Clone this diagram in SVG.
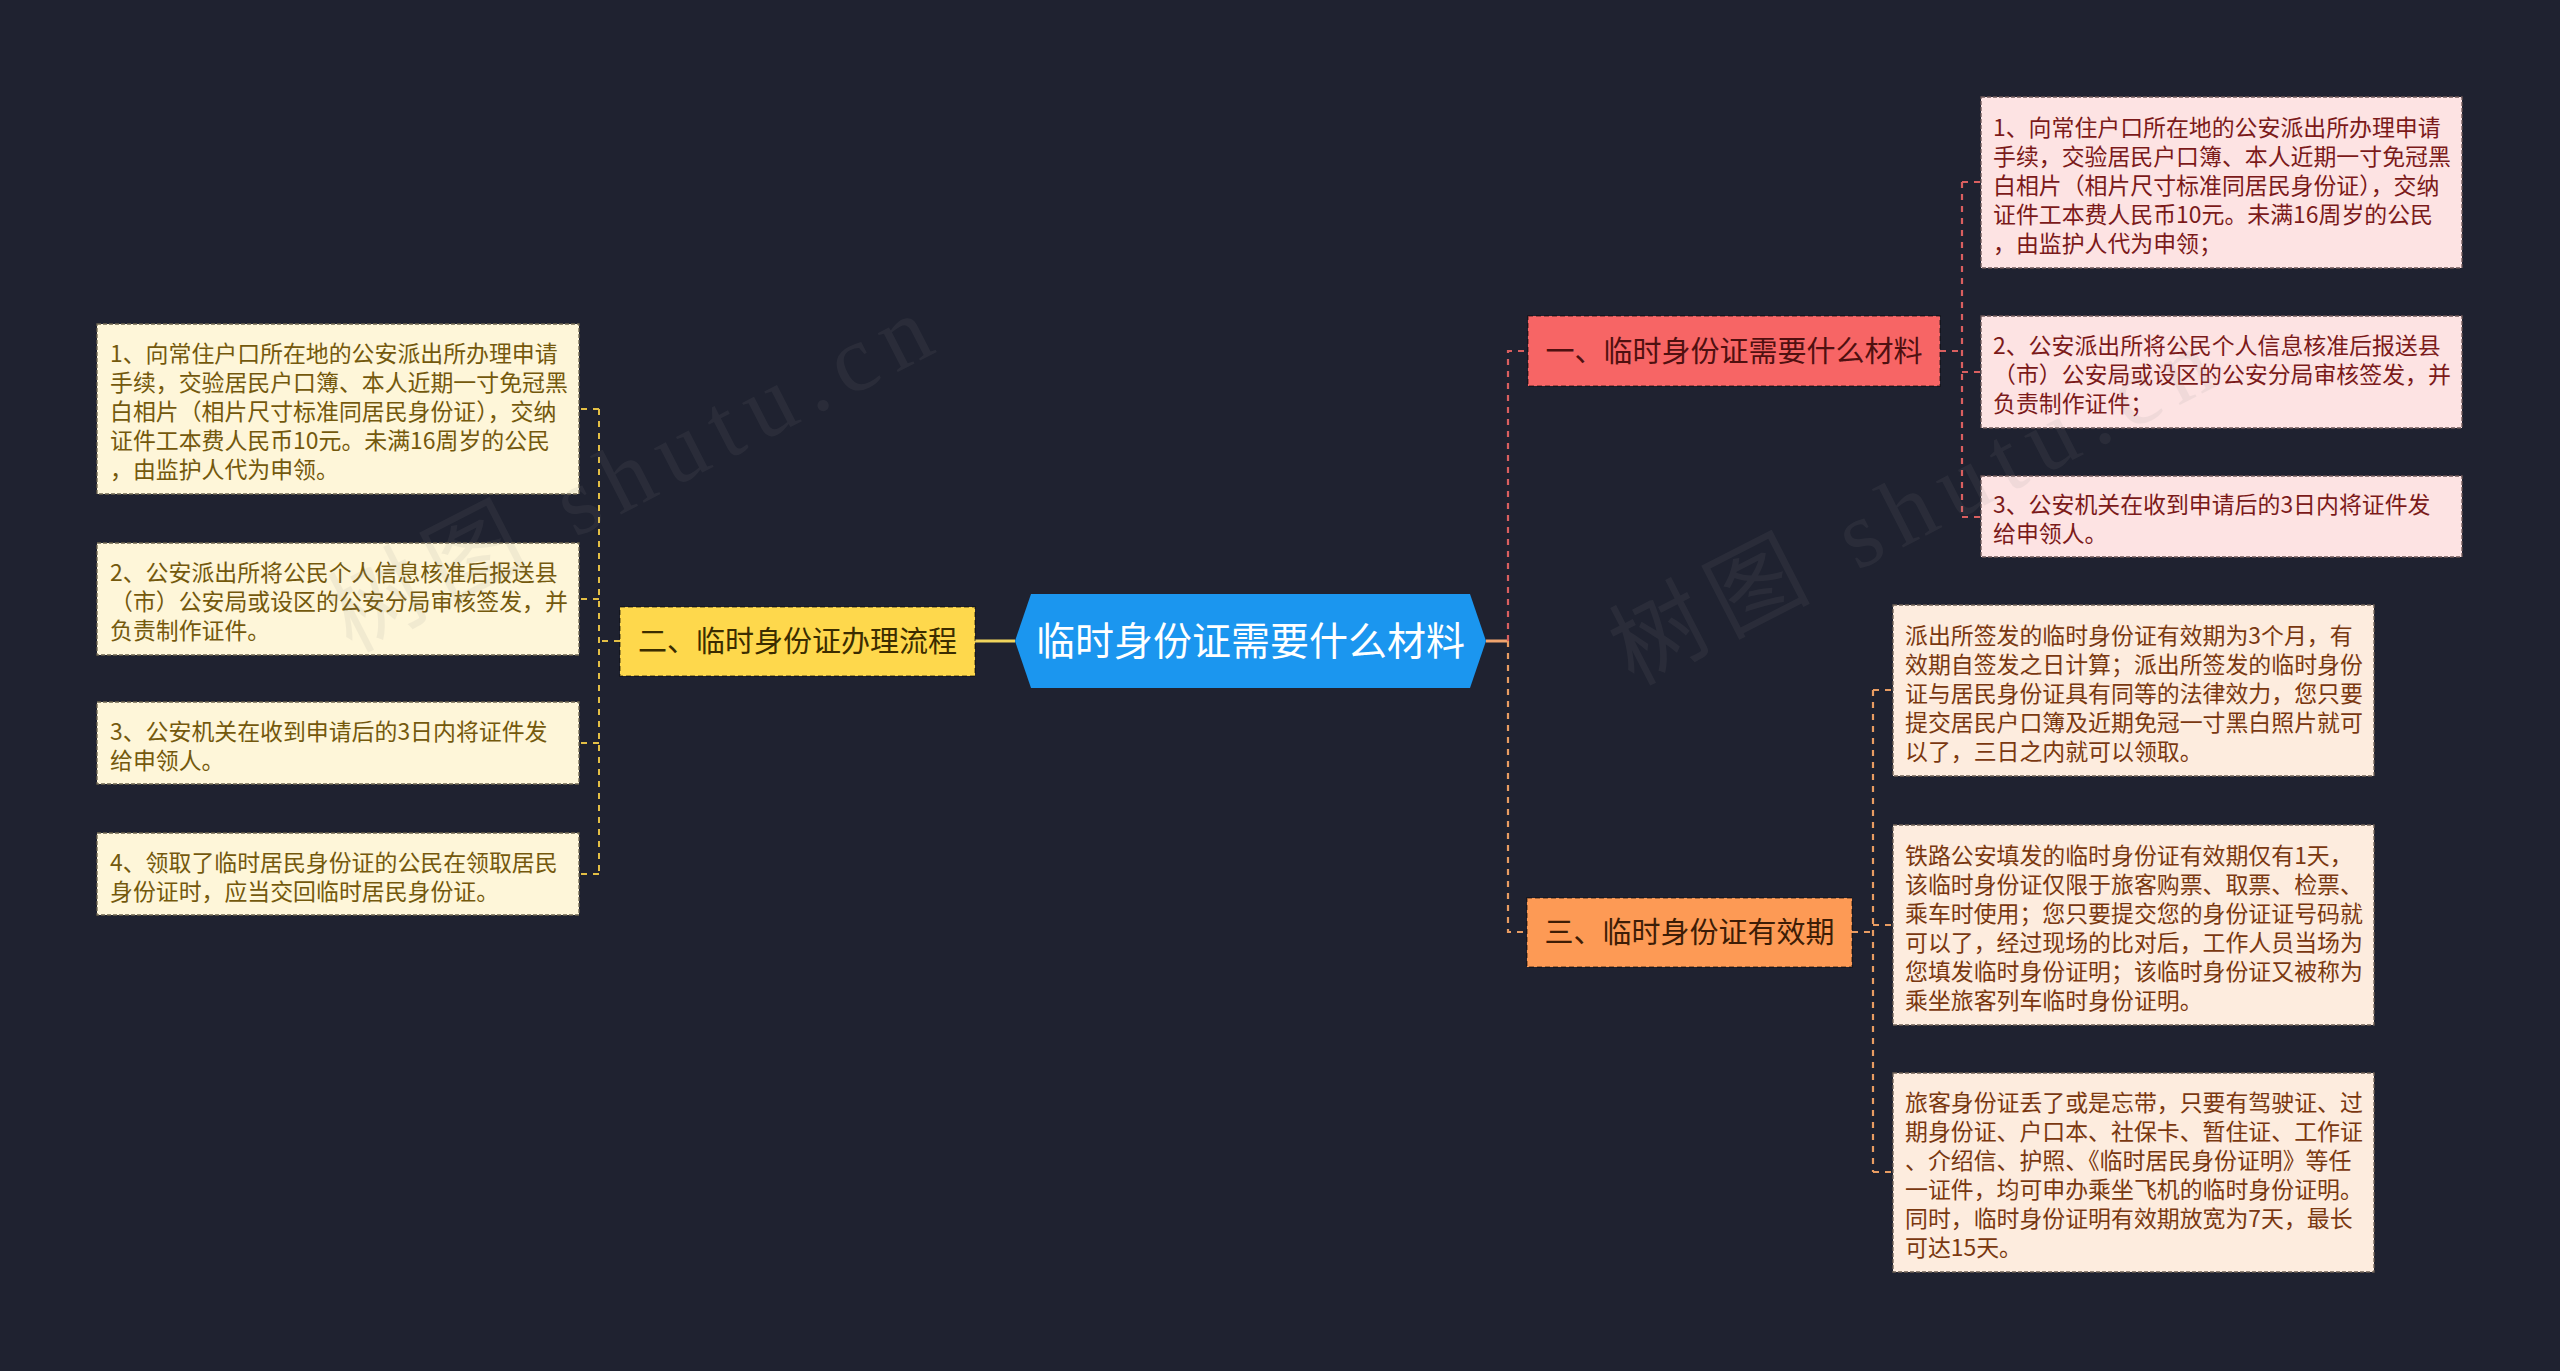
<svg xmlns="http://www.w3.org/2000/svg" width="2560" height="1371" viewBox="0 0 2560 1371">
<defs>
<style>
.bg{fill:#1f2230}
.t{font-family:"Noto Sans CJK SC","Microsoft YaHei","Liberation Sans",sans-serif}
.leaf{font-size:22.9px}
.node{font-size:29px;text-anchor:middle}
.lbox{fill:#fef6d9;stroke:#6e6650;stroke-width:1.3;stroke-dasharray:4 2}
.pbox{fill:#fde3e3;stroke:#6e5858;stroke-width:1.3;stroke-dasharray:4 2}
.obox{fill:#fdecde;stroke:#6e6055;stroke-width:1.3;stroke-dasharray:4 2}
.ltx{fill:#74590d}
.ptx{fill:#7b1a1a}
.otx{fill:#7a3810}
.nb{stroke:rgba(0,0,0,0.45);stroke-width:1.5;stroke-dasharray:5 3}
.cy{fill:none;stroke:#e3bf45;stroke-width:2;stroke-dasharray:6 6}
.cr{fill:none;stroke:#d95f5f;stroke-width:2.2;stroke-dasharray:6 6}
.co{fill:none;stroke:#e89c62;stroke-width:2.2;stroke-dasharray:6 6}
.wm{font-family:"Liberation Serif","Noto Sans CJK SC",serif;font-size:95px;fill:#8a8a8a;opacity:0.1}
</style>
</defs>
<rect class="bg" x="0" y="0" width="2560" height="1371"/>

<g id="connectors">
  <line x1="975" y1="641" x2="1015" y2="641" stroke="#f0d45c" stroke-width="3"/>
  <line x1="1486" y1="641" x2="1508" y2="641" stroke="#f0a46e" stroke-width="3"/>
  <path class="cy" d="M620,641 H599"/>
  <path class="cy" d="M599,409 V874"/>
  <path class="cy" d="M599,409 H579"/>
  <path class="cy" d="M599,599 H579"/>
  <path class="cy" d="M599,743 H579"/>
  <path class="cy" d="M599,874 H579"/>
  <path class="cr" d="M1508,641 V351 H1528"/>
  <path class="co" d="M1508,641 V932 H1527"/>
  <path class="cr" d="M1940,351 H1962"/>
  <path class="cr" d="M1962,182 V517"/>
  <path class="cr" d="M1962,182 H1981"/>
  <path class="cr" d="M1962,372 H1981"/>
  <path class="cr" d="M1962,517 H1981"/>
  <path class="co" d="M1852,932 H1873"/>
  <path class="co" d="M1873,690 V1172"/>
  <path class="co" d="M1873,690 H1893"/>
  <path class="co" d="M1873,925 H1893"/>
  <path class="co" d="M1873,1172 H1893"/>
</g>

<g id="root">
  <polygon points="1015,641 1031,594 1470,594 1486,641 1470,688 1031,688" fill="#1b96ef"/>
  <text class="t" x="1250.5" y="655" font-size="39" fill="#ffffff" text-anchor="middle">临时身份证需要什么材料</text>
</g>

<g id="n2">
  <rect class="nb" x="620" y="607" width="355" height="69" fill="#fed84c"/>
  <text class="t node" x="797.5" y="651.5" fill="#3b2c00">二、临时身份证办理流程</text>
</g>
<g id="n1">
  <rect class="nb" x="1528" y="316" width="412" height="70" fill="#f76565"/>
  <text class="t node" x="1734" y="361.5" fill="#4f1010">一、临时身份证需要什么材料</text>
</g>
<g id="n3">
  <rect class="nb" x="1527" y="898" width="325" height="69" fill="#fd9a55"/>
  <text class="t node" x="1689.5" y="942.5" fill="#3d1d06">三、临时身份证有效期</text>
</g>

<g id="l1">
  <rect class="lbox" x="97" y="324" width="482" height="170"/>
  <text class="t leaf ltx"><tspan x="110" y="362">1、向常住户口所在地的公安派出所办理申请</tspan><tspan x="110" y="391">手续，交验居民户口簿、本人近期一寸免冠黑</tspan><tspan x="110" y="420">白相片（相片尺寸标准同居民身份证），交纳</tspan><tspan x="110" y="449">证件工本费人民币10元。未满16周岁的公民</tspan><tspan x="110" y="478">，由监护人代为申领。</tspan></text>
</g>
<g id="l2">
  <rect class="lbox" x="97" y="543" width="482" height="112"/>
  <text class="t leaf ltx"><tspan x="110" y="581">2、公安派出所将公民个人信息核准后报送县</tspan><tspan x="110" y="610">（市）公安局或设区的公安分局审核签发，并</tspan><tspan x="110" y="639">负责制作证件。</tspan></text>
</g>
<g id="l3">
  <rect class="lbox" x="97" y="702" width="482" height="82"/>
  <text class="t leaf ltx"><tspan x="110" y="739.5">3、公安机关在收到申请后的3日内将证件发</tspan><tspan x="110" y="768.5">给申领人。</tspan></text>
</g>
<g id="l4">
  <rect class="lbox" x="97" y="833" width="482" height="82"/>
  <text class="t leaf ltx"><tspan x="110" y="870.5">4、领取了临时居民身份证的公民在领取居民</tspan><tspan x="110" y="899.5">身份证时，应当交回临时居民身份证。</tspan></text>
</g>

<g id="p1">
  <rect class="pbox" x="1981" y="97" width="481" height="171"/>
  <text class="t leaf ptx"><tspan x="1993" y="135.5">1、向常住户口所在地的公安派出所办理申请</tspan><tspan x="1993" y="164.5">手续，交验居民户口簿、本人近期一寸免冠黑</tspan><tspan x="1993" y="193.5">白相片（相片尺寸标准同居民身份证），交纳</tspan><tspan x="1993" y="222.5">证件工本费人民币10元。未满16周岁的公民</tspan><tspan x="1993" y="251.5">，由监护人代为申领；</tspan></text>
</g>
<g id="p2">
  <rect class="pbox" x="1981" y="316" width="481" height="112"/>
  <text class="t leaf ptx"><tspan x="1993" y="354">2、公安派出所将公民个人信息核准后报送县</tspan><tspan x="1993" y="383">（市）公安局或设区的公安分局审核签发，并</tspan><tspan x="1993" y="412">负责制作证件；</tspan></text>
</g>
<g id="p3">
  <rect class="pbox" x="1981" y="476" width="481" height="81"/>
  <text class="t leaf ptx"><tspan x="1993" y="513">3、公安机关在收到申请后的3日内将证件发</tspan><tspan x="1993" y="542">给申领人。</tspan></text>
</g>

<g id="o1">
  <rect class="obox" x="1893" y="605" width="481" height="171"/>
  <text class="t leaf otx"><tspan x="1905" y="643.5">派出所签发的临时身份证有效期为3个月，有</tspan><tspan x="1905" y="672.5">效期自签发之日计算；派出所签发的临时身份</tspan><tspan x="1905" y="701.5">证与居民身份证具有同等的法律效力，您只要</tspan><tspan x="1905" y="730.5">提交居民户口簿及近期免冠一寸黑白照片就可</tspan><tspan x="1905" y="759.5">以了，三日之内就可以领取。</tspan></text>
</g>
<g id="o2">
  <rect class="obox" x="1893" y="825" width="481" height="200"/>
  <text class="t leaf otx"><tspan x="1905" y="863.5">铁路公安填发的临时身份证有效期仅有1天，</tspan><tspan x="1905" y="892.5">该临时身份证仅限于旅客购票、取票、检票、</tspan><tspan x="1905" y="921.5">乘车时使用；您只要提交您的身份证证号码就</tspan><tspan x="1905" y="950.5">可以了，经过现场的比对后，工作人员当场为</tspan><tspan x="1905" y="979.5">您填发临时身份证明；该临时身份证又被称为</tspan><tspan x="1905" y="1008.5">乘坐旅客列车临时身份证明。</tspan></text>
</g>
<g id="o3">
  <rect class="obox" x="1893" y="1073" width="481" height="199"/>
  <text class="t leaf otx"><tspan x="1905" y="1111">旅客身份证丢了或是忘带，只要有驾驶证、过</tspan><tspan x="1905" y="1140">期身份证、户口本、社保卡、暂住证、工作证</tspan><tspan x="1905" y="1169">、介绍信、护照、《临时居民身份证明》等任</tspan><tspan x="1905" y="1198">一证件，均可申办乘坐飞机的临时身份证明。</tspan><tspan x="1905" y="1227">同时，临时身份证明有效期放宽为7天，最长</tspan><tspan x="1905" y="1256">可达15天。</tspan></text>
</g>

<g id="watermarks">
  <text class="wm" x="0" y="0" textLength="660" lengthAdjust="spacing" transform="translate(351,653) rotate(-27.2)">树图 shutu.cn</text>
  <text class="wm" x="0" y="0" textLength="660" lengthAdjust="spacing" transform="translate(1633,686) rotate(-27.2)">树图 shutu.cn</text>
</g>
</svg>
